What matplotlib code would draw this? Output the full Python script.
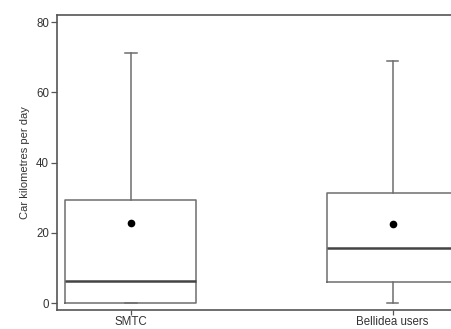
import matplotlib
matplotlib.use("Agg")
import matplotlib.pyplot as plt

# Summary statistics of daily car kilometres per group
groups = ["SMTC", "Bellidea users"]
whisker_low = [0.0, 0.0]
q1 = [0.2, 6.1]
median = [6.3, 15.8]
q3 = [29.3, 31.3]
whisker_high = [71.1, 69.0]
mean = [22.8, 22.6]
y_ticks = [0, 20, 40, 60, 80]

plt.rcParams["font.family"] = ["Liberation Sans", "DejaVu Sans"]

fig = plt.figure(figsize=(4.52, 3.29), dpi=100)
ax = fig.add_axes([0.1268, 0.0568, 0.904, 0.8985])

stats = []
for i, g in enumerate(groups):
    stats.append({
        "label": g,
        "whislo": whisker_low[i],
        "q1": q1[i],
        "med": median[i],
        "q3": q3[i],
        "whishi": whisker_high[i],
        "mean": mean[i],
        "fliers": [],
    })

positions = list(range(1, len(groups) + 1))
box_col = "#6e6e6e"
ax.bxp(
    stats,
    positions=positions,
    widths=0.5,
    showmeans=True,
    showfliers=False,
    capwidths=0.045,
    boxprops=dict(color=box_col, linewidth=1.1),
    whiskerprops=dict(color=box_col, linewidth=1.1),
    capprops=dict(color=box_col, linewidth=1.1),
    medianprops=dict(color="#444444", linewidth=1.8),
    meanprops=dict(marker="o", markerfacecolor="black", markeredgecolor="black",
                   markersize=4.5),
)

ax.set_xlim(0.72, 2.28)
ax.set_ylim(-2.0, 82.1)
ax.set_yticks(y_ticks)
ax.set_xticks(positions)
ax.set_xticklabels(groups)
ax.set_ylabel("Car kilometres per day", fontsize=8, color="#333333", labelpad=4)

for side in ["left", "bottom", "top", "right"]:
    ax.spines[side].set_color("#555555")
    ax.spines[side].set_linewidth(1.2)
ax.tick_params(axis="both", labelsize=8.3, colors="#555555", labelcolor="#333333",
               length=4, width=0.9)
ax.tick_params(axis="y", pad=2)
ax.tick_params(axis="x", length=3.5, pad=0.5)

fig.savefig("out.png", dpi=100)
